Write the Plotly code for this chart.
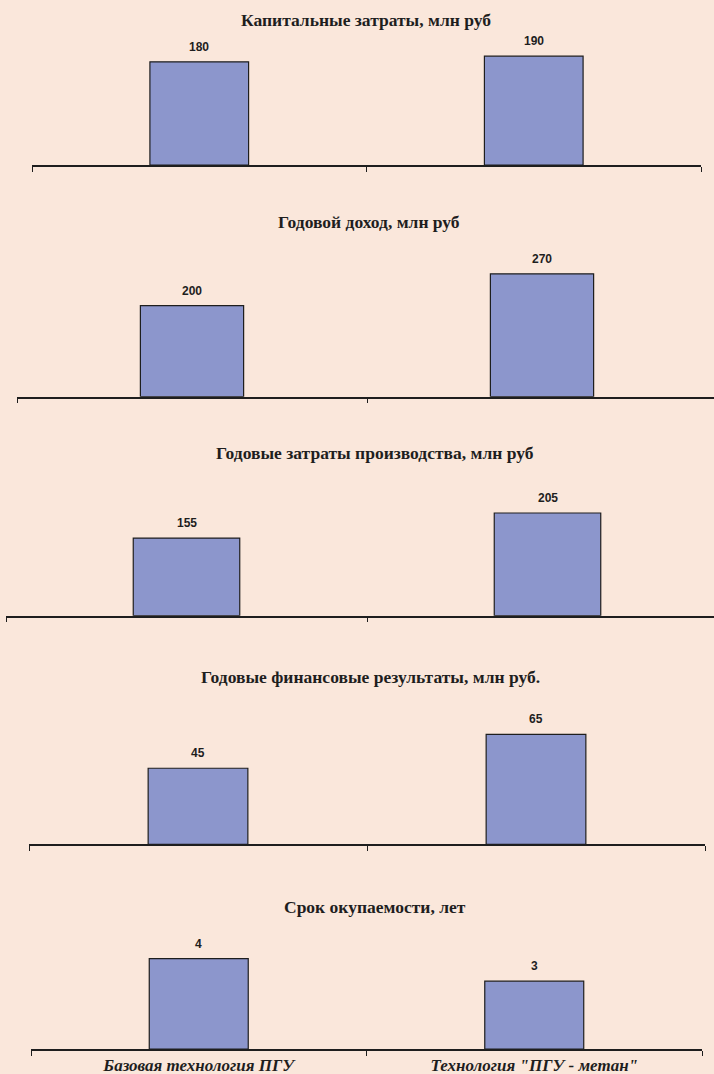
import plotly.graph_objects as go

categories = ["Базовая технология ПГУ", "Технология \"ПГУ - метан\""]
titles = [
    "Капитальные затраты, млн руб",
    "Годовой доход, млн руб",
    "Годовые затраты производства, млн руб",
    "Годовые финансовые результаты, млн руб.",
    "Срок окупаемости, лет",
]
capital_costs = [180, 190]
annual_income = [200, 270]
production_costs = [155, 205]
financial_results = [45, 65]
payback_years = [4, 3]
series = [capital_costs, annual_income, production_costs, financial_results, payback_years]

W, H = 714, 1074
BG = "#FAE7DB"
BAR = "#8C96CC"
DARK = "#1e1e1e"

# panel geometry in pixels: x-left, x-right (full axis extent), axis y, px per unit, y max, title x, title y
panels = [
    dict(x0=32, x1=701, ay=165.0, sc=0.573, ymax=200, tx=366, ty=20),
    dict(x0=17, x1=717, ay=396.7, sc=0.455, ymax=300, tx=369, ty=222),
    dict(x0=6, x1=728, ay=615.7, sc=0.501, ymax=250, tx=375, ty=453),
    dict(x0=29, x1=705, ay=844.3, sc=1.69, ymax=80, tx=370, ty=677),
    dict(x0=31, x1=702, ay=1049.0, sc=22.6, ymax=5, tx=375, ty=907),
]

fig = go.Figure()
annotations = []
layout = {}
for i, (p, vals, title) in enumerate(zip(panels, series, titles)):
    n = i + 1
    xa = "x" if n == 1 else f"x{n}"
    ya = "y" if n == 1 else f"y{n}"
    xkey = "xaxis" if n == 1 else f"xaxis{n}"
    ykey = "yaxis" if n == 1 else f"yaxis{n}"
    top_px = p["ay"] - p["sc"] * p["ymax"]
    px_per_cat = (p["x1"] - p["x0"]) / 2.0
    x1 = min(p["x1"], W)
    rmax = 1.5 - (p["x1"] - x1) / px_per_cat
    fig.add_trace(go.Bar(
        x=categories, y=vals, xaxis=xa, yaxis=ya, width=0.295,
        marker=dict(color=BAR, line=dict(color=DARK, width=1.2)),
        showlegend=False, hoverinfo="skip", cliponaxis=False,
    ))
    last = (n == len(panels))
    layout[xkey] = dict(
        domain=[p["x0"] / W, x1 / W],
        anchor=ya, type="category", range=[-0.5, rmax], automargin=False,
        showline=True, linecolor=DARK, linewidth=1.5,
        ticks="outside", tickson="boundaries", ticklen=5, tickwidth=1.2, tickcolor=DARK,
        showgrid=False, zeroline=False, showticklabels=last, ticklabelstandoff=0,
        tickfont=dict(family="Liberation Serif", size=17, color=DARK, weight="bold", style="italic"),
    )
    layout[ykey] = dict(
        domain=[1 - p["ay"] / H, 1 - top_px / H], anchor=xa, automargin=False,
        range=[0, p["ymax"]], visible=False, showgrid=False, zeroline=False,
    )
    annotations.append(dict(
        text=f"<b>{title}</b>", xref="paper", yref="paper",
        x=p["tx"] / W, y=1 - p["ty"] / H, xanchor="center", yanchor="middle",
        showarrow=False, font=dict(family="Liberation Serif", size=17.5, color=DARK),
    ))
    for c, v in zip(categories, vals):
        annotations.append(dict(
            text=f"<b>{v}</b>", xref=xa, yref=ya, x=c, y=v,
            xanchor="center", yanchor="middle", yshift=15, showarrow=False,
            font=dict(family="Liberation Sans", size=12, color=DARK),
        ))

fig.update_layout(
    width=W, height=H, margin=dict(l=0, r=0, t=0, b=0, autoexpand=False),
    paper_bgcolor=BG, plot_bgcolor="rgba(0,0,0,0)",
    annotations=annotations, **layout,
)
fig.write_html("out.html", config={"displayModeBar": False})
